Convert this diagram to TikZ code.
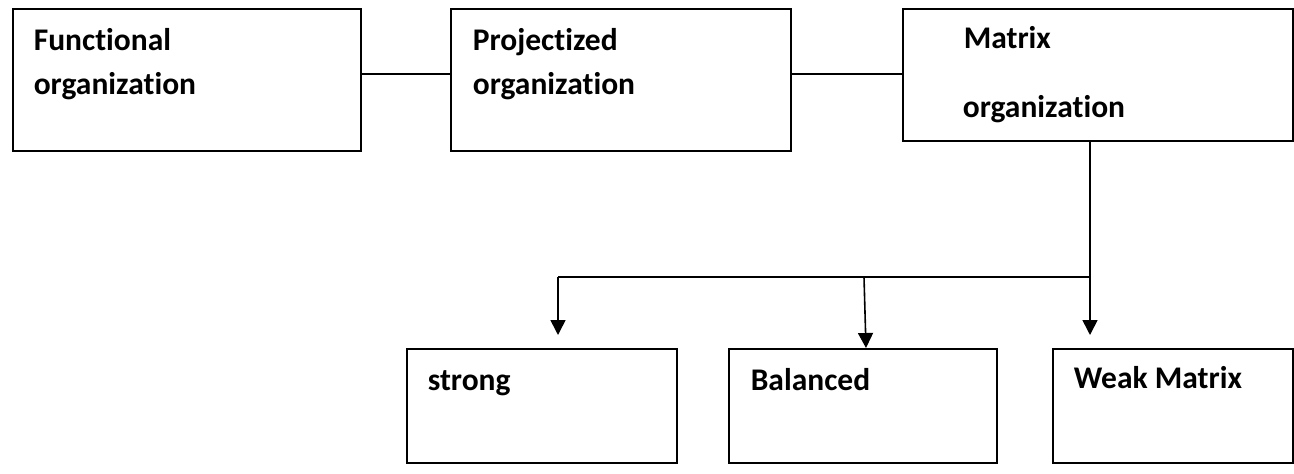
\documentclass[tikz,border=0pt]{standalone}
\usepackage{fontspec}
\setmainfont{Carlito}[Ligatures=NoCommon]
\usetikzlibrary{arrows.meta}

\begin{document}
\begin{tikzpicture}[x=1pt, y=-1pt, line width=1.6pt,
      box/.style = {draw, rectangle, anchor=north west, inner sep=0pt},
      txt/.style = {anchor=base west, inner sep=0pt, font=\fontsize{31.5}{38}\selectfont\bfseries},
      arr/.style = {-{Triangle[width=15pt,length=15pt]}}]

  \useasboundingbox (0,0) rectangle (1294,474);

  % Top row
  \node[box, minimum width=348pt, minimum height=142pt] (func) at (12,8) {};
  \node[box, minimum width=340pt, minimum height=142pt] (proj) at (450,8) {};
  \node[box, minimum width=390pt, minimum height=132pt] (matrix) at (902,8) {};
  \node[txt] (funcA) at (33,50) {Functional};
  \node[txt] (funcB) at (33,94) {organization};
  \node[txt] (projA) at (472,50) {Projectized};
  \node[txt] (projB) at (472,94) {organization};
  \node[txt] (matrixA) at (963,48) {Matrix};
  \node[txt] (matrixB) at (962,117) {organization};

  % Bottom row
  \node[box, minimum width=270pt, minimum height=114pt] (strong) at (406,348) {};
  \node[box, minimum width=268pt, minimum height=114pt] (balanced) at (728,348) {};
  \node[box, minimum width=240pt, minimum height=114pt] (weak) at (1052,348) {};
  \node[txt] (strongT) at (427,390) {strong};
  \node[txt] (balancedT) at (750,390) {Balanced};
  \node[txt] (weakT) at (1073,388) {Weak Matrix};

  % Connectors
  \draw (func.east |- 0,74) -- (proj.west |- 0,74);
  \draw (proj.east |- 0,74) -- (matrix.west |- 0,74);
  \coordinate (top) at (1090,140);
  \coordinate (split) at (1090,277);
  \coordinate (left) at (558,277);
  \coordinate (mid) at (864,277);
  \draw (top) -- (split) -- (left);
  \draw[arr] (left) -- (558,335);
  \draw[arr] (mid) -- (balanced.north west -| 866,0);
  \draw[arr] (split) -- (1090,335);

\end{tikzpicture}
\end{document}
